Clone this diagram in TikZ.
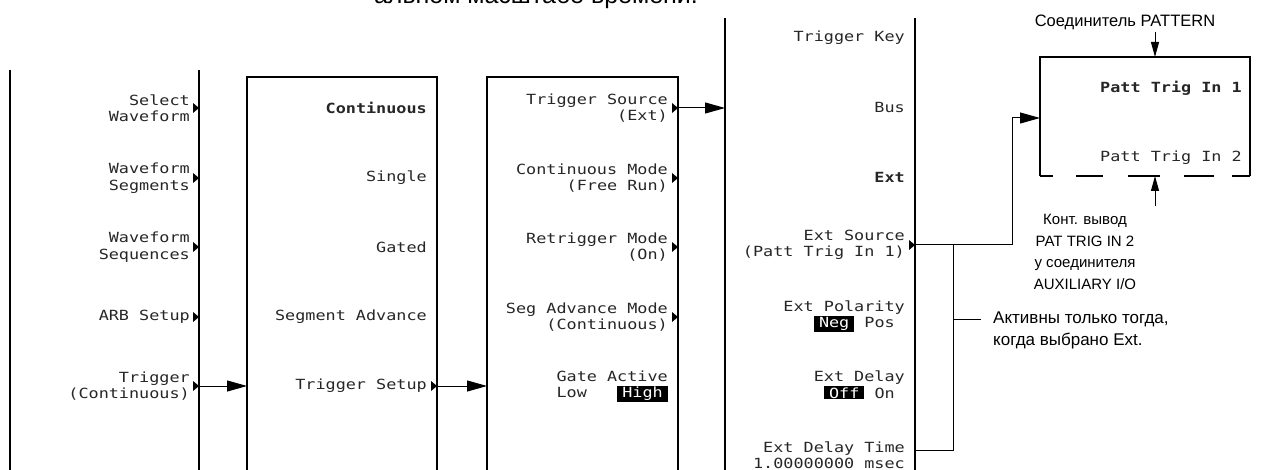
\documentclass[tikz,border=0pt]{standalone}
\usepackage{fontspec}
\usepackage{calc}
\setmainfont{Liberation Sans}
\newfontfamily\lcdfont[FakeStretch=1.2]{DejaVu Sans Mono}
\usetikzlibrary{arrows.meta}
\newcommand{\hl}[1]{{\setlength{\fboxsep}{1pt}\colorbox{black}{\hspace*{4pt}\textcolor{white}{#1}\hspace*{4pt}}}}
\newcommand{\softarrow}[1]{\fill (#1) -- ++(-6,-5) -- ++(0,10) -- cycle;}

\tikzset{
  key/.style={font=\lcdfont\fontsize{14}{16.5}\selectfont, text=black!85, align=right, anchor=east, inner sep=0pt},
  boldkey/.style={key, font=\lcdfont\bfseries\fontsize{14}{16.5}\selectfont},
  note/.style={font=\fontsize{15}{21.5}\selectfont, inner sep=0pt},
  pane/.style={line width=1.4pt},
  wire/.style={line width=1pt},
  bigtip/.style={-{Triangle[length=20pt,width=11pt]}},
  smalltip/.style={-{Triangle[length=15pt,width=8pt]}}
}

\begin{document}
\begin{tikzpicture}[x=1pt,y=-1pt]
\useasboundingbox (0,0) rectangle (1279,470);
\node[note, font=\fontsize{25}{27}\selectfont, anchor=base] (cap) at (536,4) {альном масштабе времени.};

% menu panels
\draw[pane] (10,70) -- (10,470);
\draw[pane] (199,70) -- (199,470);
\draw[pane] (247,470) -- (247,77) -- (437,77) -- (437,470);
\draw[pane] (487,470) -- (487,77) -- (678,77) -- (678,470);
\draw[pane, line width=2.4pt] (725,18) -- (725,470);
\draw[pane, line width=2.4pt] (915,18) -- (915,470);

% first panel
\node[key] (selwf) at (190,108) {Select\\Waveform};
\node[key] (wfseg) at (190,178) {Waveform\\Segments};
\node[key] (wfseq) at (190,247) {Waveform\\Sequences};
\node[key] (arb) at (190,317) {ARB Setup};
\node[key] (trig) at (190,386) {Trigger\\(Continuous)};
\softarrow{199,108}
\softarrow{199,178}
\softarrow{199,247}
\softarrow{199,317}
\softarrow{199,386}

% second panel
\node[boldkey] (cont) at (427,108) {Continuous};
\node[key] (single) at (427,178) {Single};
\node[key] (gated) at (427,247) {Gated};
\node[key] (segadv) at (427,317) {Segment Advance};
\node[key] (tsetup) at (427,386) {Trigger Setup};
\softarrow{437,386}

% third panel
\node[key] (tsrc) at (668,108) {Trigger Source\\(Ext)};
\node[key] (cmode) at (668,178) {Continuous Mode\\(Free Run)};
\node[key] (rmode) at (668,247) {Retrigger Mode\\(On)};
\node[key] (smode) at (668,317) {Seg Advance Mode\\(Continuous)};
\node[key] (gate) at (668,386) {Gate Active\\\makebox[\widthof{Gate Active}][l]{Low\hfill\hl{High}}};
\softarrow{678,108}
\softarrow{678,178}
\softarrow{678,247}
\softarrow{678,317}

% fourth panel
\node[key] (tkey) at (905,38) {Trigger Key};
\node[key] (bus) at (905,107) {Bus};
\node[boldkey] (ext) at (905,177) {Ext};
\node[key] (esrc) at (905,245) {Ext Source\\(Patt Trig In 1)};
\node[key] (epol) at (905,316) {Ext Polarity\\\hl{Neg} Pos\hspace*{10pt}};
\node[key] (edly) at (905,385) {Ext Delay\\\hl{Off} On\hspace*{10pt}};
\node[key] (etime) at (905,455) {Ext Delay Time\\1.00000000 msec};
\softarrow{915,245}

% connectors between panels
\coordinate (m-trig) at (199,386);
\coordinate (m-tsetup) at (437,386);
\coordinate (m-tsrc) at (678,108);
\coordinate (m-esrc) at (915,245);
\coordinate (p2in) at (247,386);
\coordinate (p3in) at (487,386);
\coordinate (p4in) at (725,108);
\draw[wire, bigtip] (m-trig) -- (p2in);
\draw[wire, bigtip] (m-tsetup) -- (p3in);
\draw[wire, bigtip] (m-tsrc) -- (p4in);

% PATTERN connector box, open bottom edge
\coordinate (bxsw) at (1040,176);
\coordinate (bxnw) at (1040,57);
\coordinate (bxne) at (1250,57);
\coordinate (bxse) at (1250,176);
\coordinate (bxw) at (1040,118);
\coordinate (bxn) at (1155,57);
\coordinate (bxs) at (1155,176);
\draw[pane] (bxsw) -- (bxnw) -- (bxne) -- (bxse);
\draw[pane] (bxsw) -- (1053,176);
\draw[pane] (1076,176) -- (1103,176);
\draw[pane] (1128,176) -- (1160,176);
\draw[pane] (1184,176) -- (1214,176);
\draw[pane] (1232,176) -- (bxse);
\node[boldkey] (pin1) at (1242,88) {Patt Trig In 1};
\node[key] (pin2) at (1242,158) {Patt Trig In 2};

\draw[wire, bigtip] (m-esrc) -- (1012,245) -- (1012,118) -- (bxw);

\node[note, font=\fontsize{16.5}{20}\selectfont] (pattern) at (1125,22) {Соединитель PATTERN};
\coordinate (pattern-s) at (1155,32);
\draw[wire, smalltip] (pattern-s) -- (bxn);

\node[note, align=center] (aux) at (1085,252) {Конт. вывод\\PAT TRIG IN 2\\у соединителя\\AUXILIARY I/O};
\coordinate (aux-n) at (1155,206);
\draw[wire, smalltip] (aux-n) -- (bxs);

% bracket over the Ext-only keys
\coordinate (br-top) at (953,245);
\coordinate (br-bot) at (953,450);
\coordinate (br-mid) at (953,319);
\coordinate (m-etime) at (915,450);
\draw[wire] (m-etime) -- (br-bot) -- (br-top);
\node[note, font=\fontsize{17}{22}\selectfont, align=left, anchor=west] (extonly) at (993,330) {Активны только тогда,\\когда выбрано Ext.};
\draw[wire] (br-mid) -- (981,319);
\end{tikzpicture}
\end{document}
